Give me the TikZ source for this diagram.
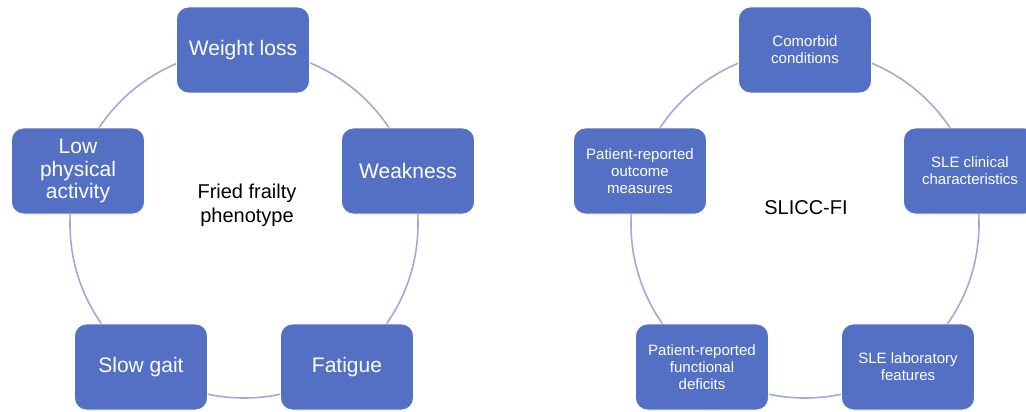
\documentclass[tikz,border=0pt]{standalone}
\usepackage{fontspec}
\setmainfont{Liberation Sans}
\usepackage{xcolor}
\usepackage{tikz}

\definecolor{boxblue}{RGB}{84,112,196}
\definecolor{ringblue}{RGB}{160,170,218}

\begin{document}
\begin{tikzpicture}[x=1pt, y=-1pt,
    ring/.style={circle, draw=ringblue, line width=1.6pt, minimum size=348pt, inner sep=0pt},
    item node/.style={rectangle, rounded corners=12pt, fill=boxblue, draw=white, line width=0.8pt,
        minimum width=133pt, minimum height=86pt, text=white, align=center},
    big item/.style={item node, font=\fontsize{21}{22.5}\selectfont},
    small item/.style={item node, font=\fontsize{15}{16.8}\selectfont},
    title node/.style={align=center, text=black, font=\fontsize{20}{24}\selectfont}]

    \clip (0,0) rectangle (1026,412);
    \fill[white] (0,0) rectangle (1026,412);

    % left cycle
    \node[ring] (ringL) at (244,224) {};
    \node[big item] (weight) at (243,50) {Weight loss};
    \node[big item] (weak) at (408,171) {Weakness};
    \node[big item] (fatigue) at (347,367) {Fatigue};
    \node[big item] (gait) at (141,367) {Slow gait};
    \node[big item] (activity) at (78,171) {Low\\physical\\activity};
    \node[title node] (fried) at (247,205) {Fried frailty\\phenotype};

    % right cycle
    \node[ring] (ringR) at (805,224) {};
    \node[small item] (comorbid) at (805,50) {Comorbid\\conditions};
    \node[small item] (clinical) at (970,171) {SLE clinical\\characteristics};
    \node[small item] (lab) at (908,367) {SLE laboratory\\features};
    \node[small item] (deficits) at (702,367) {Patient-reported\\functional\\deficits};
    \node[small item] (outcome) at (640,171) {Patient-reported\\outcome\\measures};
    \node[title node] (slicc) at (806,208) {SLICC-FI};
\end{tikzpicture}
\end{document}
